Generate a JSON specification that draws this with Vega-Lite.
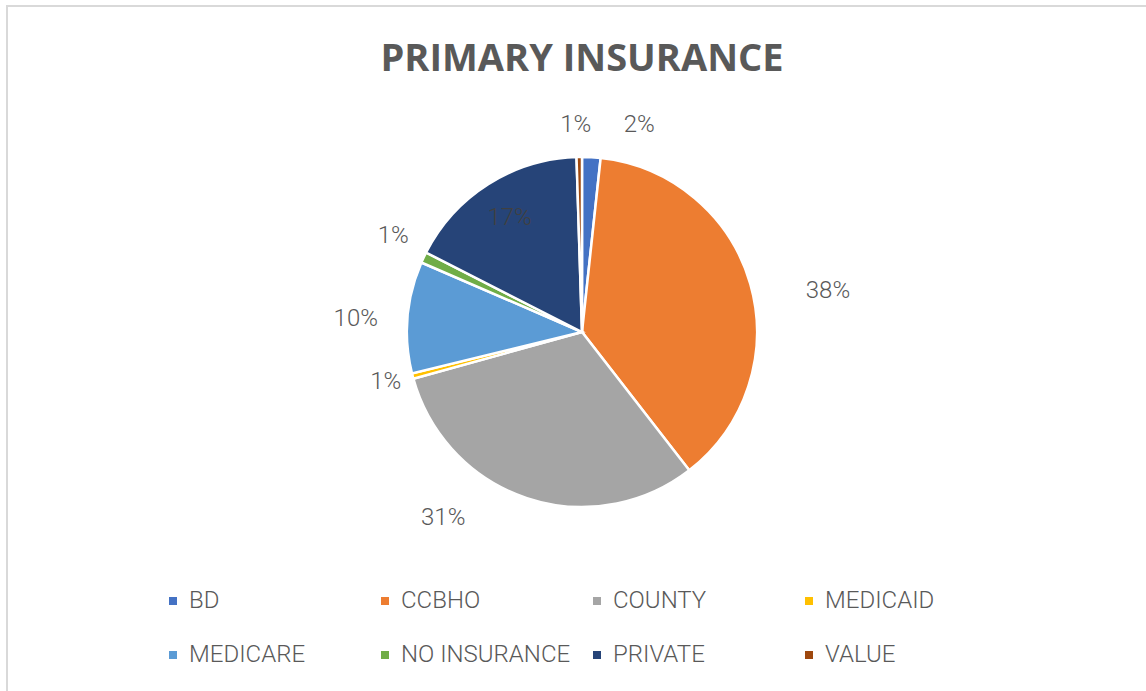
{
  "$schema": "https://vega.github.io/schema/vega-lite/v6.json",
  "width": 1146,
  "height": 691,
  "autosize": {"type": "fit", "contains": "padding"},
  "padding": {"left": 6, "top": 5, "right": 0, "bottom": 0},
  "background": "white",
  "title": {
    "text": "PRIMARY INSURANCE",
    "font": "Open Sans",
    "fontSize": 38,
    "fontWeight": "bold",
    "color": "#595959",
    "anchor": "middle",
    "dx": 6,
    "offset": -74
  },
  "data": {
    "values": [
      {"category": "BD", "value": 1.7, "label": "2%"},
      {"category": "CCBHO", "value": 37.8, "label": "38%"},
      {"category": "COUNTY", "value": 31.2, "label": "31%"},
      {"category": "MEDICAID", "value": 0.5, "label": "1%"},
      {"category": "MEDICARE", "value": 10.3, "label": "10%"},
      {"category": "NO INSURANCE", "value": 1.0, "label": "1%"},
      {"category": "PRIVATE", "value": 17.0, "label": "17%"},
      {"category": "VALUE", "value": 0.5, "label": "1%"}
    ]
  },
  "layer": [
    {
      "data": {"values": [{"frame": 1}]},
      "mark": {"type": "rect", "x": 0, "x2": {"expr": "width"}, "y": 0, "y2": 2, "fill": "#d9d9d9", "strokeWidth": 0},
      "encoding": {}
    },
    {
      "data": {"values": [{"frame": 1}]},
      "mark": {"type": "rect", "x": 0, "x2": 2, "y": 0, "y2": {"expr": "height"}, "fill": "#d9d9d9", "strokeWidth": 0},
      "encoding": {}
    },
    {
      "mark": {
        "type": "arc",
        "outerRadius": 175,
        "stroke": "white",
        "strokeWidth": 2.5,
        "x": {"expr": "width/2+6"},
        "y": {"expr": "height/2-16"}
      },
      "encoding": {
        "theta": {"field": "value", "type": "quantitative", "stack": true},
        "order": {"field": "category", "type": "nominal", "sort": "ascending"},
        "color": {
          "field": "category",
          "type": "nominal",
          "scale": {
            "domain": ["BD", "CCBHO", "COUNTY", "MEDICAID", "MEDICARE", "NO INSURANCE", "PRIVATE", "VALUE"],
            "range": ["#4472C4", "#ED7D31", "#A5A5A5", "#FFC000", "#5B9BD5", "#70AD47", "#264478", "#9E480E"]
          },
          "legend": {
            "title": null,
            "orient": "none",
            "legendX": 155,
            "legendY": 584,
            "direction": "horizontal",
            "columns": 4,
            "gridAlign": "all",
            "columnPadding": 14,
            "rowPadding": 30,
            "padding": 0,
            "symbolType": "square",
            "symbolSize": 64,
            "symbolStrokeWidth": 0,
            "labelFont": "Roboto",
            "labelFontWeight": 300,
            "labelFontSize": 24,
            "labelColor": "#595959",
            "labelOffset": 4,
            "labelLimit": 400
          }
        }
      }
    },
    {
      "mark": {"type": "text", "radius": 212, "dx": 46, "dy": 5, "font": "Roboto", "fontWeight": 300, "fontSize": 24, "color": "#595959", "x": {"expr": "width/2+6"}, "y": {"expr": "height/2-16"}},
      "encoding": {
        "theta": {"field": "value", "type": "quantitative", "stack": true},
        "order": {"field": "category", "type": "nominal", "sort": "ascending"},
        "detail": {"field": "category", "type": "nominal"},
        "text": {"condition": {"test": "datum.category === 'BD'", "field": "label"}, "value": ""}
      }
    },
    {
      "mark": {"type": "text", "radius": 212, "dx": 42, "dy": 17, "font": "Roboto", "fontWeight": 300, "fontSize": 24, "color": "#595959", "x": {"expr": "width/2+6"}, "y": {"expr": "height/2-16"}},
      "encoding": {
        "theta": {"field": "value", "type": "quantitative", "stack": true},
        "order": {"field": "category", "type": "nominal", "sort": "ascending"},
        "detail": {"field": "category", "type": "nominal"},
        "text": {"condition": {"test": "datum.category === 'CCBHO'", "field": "label"}, "value": ""}
      }
    },
    {
      "mark": {"type": "text", "radius": 212, "dx": -72, "dy": -15, "font": "Roboto", "fontWeight": 300, "fontSize": 24, "color": "#595959", "x": {"expr": "width/2+6"}, "y": {"expr": "height/2-16"}},
      "encoding": {
        "theta": {"field": "value", "type": "quantitative", "stack": true},
        "order": {"field": "category", "type": "nominal", "sort": "ascending"},
        "detail": {"field": "category", "type": "nominal"},
        "text": {"condition": {"test": "datum.category === 'COUNTY'", "field": "label"}, "value": ""}
      }
    },
    {
      "mark": {"type": "text", "radius": 212, "dx": 9, "dy": -3, "font": "Roboto", "fontWeight": 300, "fontSize": 24, "color": "#595959", "x": {"expr": "width/2+6"}, "y": {"expr": "height/2-16"}},
      "encoding": {
        "theta": {"field": "value", "type": "quantitative", "stack": true},
        "order": {"field": "category", "type": "nominal", "sort": "ascending"},
        "detail": {"field": "category", "type": "nominal"},
        "text": {"condition": {"test": "datum.category === 'MEDICAID'", "field": "label"}, "value": ""}
      }
    },
    {
      "mark": {"type": "text", "radius": 212, "dx": -15, "dy": 5, "font": "Roboto", "fontWeight": 300, "fontSize": 24, "color": "#595959", "x": {"expr": "width/2+6"}, "y": {"expr": "height/2-16"}},
      "encoding": {
        "theta": {"field": "value", "type": "quantitative", "stack": true},
        "order": {"field": "category", "type": "nominal", "sort": "ascending"},
        "detail": {"field": "category", "type": "nominal"},
        "text": {"condition": {"test": "datum.category === 'MEDICARE'", "field": "label"}, "value": ""}
      }
    },
    {
      "mark": {"type": "text", "radius": 212, "dx": 3, "dy": -6, "font": "Roboto", "fontWeight": 300, "fontSize": 24, "color": "#595959", "x": {"expr": "width/2+6"}, "y": {"expr": "height/2-16"}},
      "encoding": {
        "theta": {"field": "value", "type": "quantitative", "stack": true},
        "order": {"field": "category", "type": "nominal", "sort": "ascending"},
        "detail": {"field": "category", "type": "nominal"},
        "text": {"condition": {"test": "datum.category === 'NO INSURANCE'", "field": "label"}, "value": ""}
      }
    },
    {
      "mark": {"type": "text", "radius": 212, "dx": -3, "dy": 5, "font": "Roboto", "fontWeight": 300, "fontSize": 24, "color": "#595959", "x": {"expr": "width/2+6"}, "y": {"expr": "height/2-16"}},
      "encoding": {
        "theta": {"field": "value", "type": "quantitative", "stack": true},
        "order": {"field": "category", "type": "nominal", "sort": "ascending"},
        "detail": {"field": "category", "type": "nominal"},
        "text": {"condition": {"test": "datum.category === 'VALUE'", "field": "label"}, "value": ""}
      }
    },
    {
      "mark": {"type": "text", "radius": 135, "font": "Roboto", "fontWeight": 300, "fontSize": 24, "color": "#404040", "x": {"expr": "width/2+6"}, "y": {"expr": "height/2-16"}},
      "encoding": {
        "theta": {"field": "value", "type": "quantitative", "stack": true},
        "order": {"field": "category", "type": "nominal", "sort": "ascending"},
        "detail": {"field": "category", "type": "nominal"},
        "text": {"condition": {"test": "datum.category === 'PRIVATE'", "field": "label"}, "value": ""}
      }
    }
  ]
}
